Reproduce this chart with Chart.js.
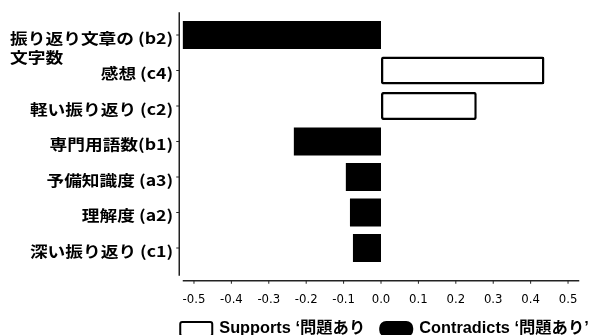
<!DOCTYPE html>
<html>
<head>
<meta charset="utf-8">
<script src="https://cdn.jsdelivr.net/npm/chart.js@4/dist/chart.umd.min.js"></script>
<style>
  html, body { margin: 0; padding: 0; background: #fff; }
  #wrap { width: 604px; height: 335px; }
</style>
</head>
<body>
<div id="wrap"><canvas id="myChart" width="604" height="335"></canvas></div>
<script>
// categories, top to bottom
const categories = [
    ['振り返り文章の (b2)', '文字数'],
    '感想 (c4)',
    '軽い振り返り (c2)',
    '専門用語数(b1)',
    '予備知識度 (a3)',
    '理解度 (a2)',
    '深い振り返り (c1)'
];
const supportsValues    = [null, 0.437, 0.256, null, null, null, null];
const contradictsValues = [-0.531, null, null, -0.233, -0.094, -0.083, -0.075];
const xTickValues = [-0.5, -0.4, -0.3, -0.2, -0.1, 0.0, 0.1, 0.2, 0.3, 0.4, 0.5];
const xTickLabels = ['-0.5', '-0.4', '-0.3', '-0.2', '-0.1', '0.0', '0.1', '0.2', '0.3', '0.4', '0.5'];
const legendLabels = ['Supports ‘問題あり', 'Contradicts ‘問題あり’'];

const JP_FONT = "bold 15px 'Noto Sans CJK JP', sans-serif";
const LEGEND_FONT = "bold 16px 'Liberation Sans', 'Noto Sans CJK JP', sans-serif";

// draw text stretched horizontally (the original looks widened)
function drawWideText(ctx, text, x, y, align, sx){
    const w = ctx.measureText(text).width * sx;
    let left = x;
    if(align == 'right') left = x - w;
    else if(align == 'center') left = x - w / 2;
    ctx.save();
    ctx.translate(left, y);
    ctx.scale(sx, 1);
    ctx.textAlign = 'left';
    ctx.fillText(text, 0, 0);
    ctx.restore();
    return w;
}

const axesPlugin = {
    id: 'axesPlugin',
    afterDraw(chart){
        const ctx = chart.ctx;
        const area = chart.chartArea;
        const xs = chart.scales.x;
        const ys = chart.scales.y;
        const axisX = area.left - 3.5;
        const axisY = area.bottom + 15;

        ctx.save();
        ctx.strokeStyle = '#222';
        ctx.lineWidth = 1.5;
        // left axis
        ctx.beginPath();
        ctx.moveTo(axisX, area.top - 5);
        ctx.lineTo(axisX, area.bottom + 10);
        ctx.stroke();
        // bottom axis
        ctx.beginPath();
        ctx.moveTo(area.left, axisY);
        ctx.lineTo(area.right, axisY);
        ctx.stroke();

        ctx.lineWidth = 1;
        for(let i = 0; i < categories.length; i++){
            const py = ys.getPixelForValue(i);
            ctx.beginPath();
            ctx.moveTo(axisX - 3, py);
            ctx.lineTo(axisX, py);
            ctx.stroke();
        }
        for(const v of xTickValues){
            const px = xs.getPixelForValue(v);
            ctx.beginPath();
            ctx.moveTo(px, axisY);
            ctx.lineTo(px, axisY + 3);
            ctx.stroke();
        }

        // y labels
        ctx.fillStyle = '#000';
        ctx.font = JP_FONT;
        ctx.textBaseline = 'middle';
        const labelRight = axisX - 6;
        for(let i = 0; i < categories.length; i++){
            const py = ys.getPixelForValue(i) + 3;
            const lab = categories[i];
            if(Array.isArray(lab)){
                const w = drawWideText(ctx, lab[0], labelRight, py, 'right', 1.18);
                drawWideText(ctx, lab[1], labelRight - w, py + 19, 'left', 1.18);
            } else {
                drawWideText(ctx, lab, labelRight, py, 'right', 1.18);
            }
        }

        // legend
        const boxW = 34, boxH = 14;
        const ly = 321;
        let lx = axisX;
        ctx.font = LEGEND_FONT;
        const styles = [
            {fill: '#fff', radius: 2},
            {fill: '#000', radius: 6}
        ];
        for(let i = 0; i < legendLabels.length; i++){
            ctx.beginPath();
            ctx.roundRect(lx + 1, ly + 1, boxW - 2, boxH, styles[i].radius);
            ctx.fillStyle = styles[i].fill;
            ctx.fill();
            ctx.lineWidth = 2;
            ctx.strokeStyle = '#000';
            ctx.stroke();
            ctx.fillStyle = '#000';
            const tw = drawWideText(ctx, legendLabels[i], lx + boxW + 6, ly + 8, 'left', 1.02);
            lx = lx + boxW + 6 + tw + 14;
        }
        ctx.restore();
    }
};

const data = {
    labels: categories.map(c => Array.isArray(c) ? c.join(' ') : c),
    datasets: [
        {
            label: legendLabels[0],
            data: supportsValues,
            backgroundColor: '#ffffff',
            borderColor: '#000000',
            borderWidth: 2.5,
            borderRadius: 2,
            borderSkipped: false,
            grouped: false,
            categoryPercentage: 1.0,
            barPercentage: 0.79
        },
        {
            label: legendLabels[1],
            data: contradictsValues,
            backgroundColor: '#000000',
            borderColor: '#000000',
            borderWidth: 0,
            grouped: false,
            categoryPercentage: 1.0,
            barPercentage: 0.79
        }
    ]
};

const config = {
    type: 'bar',
    data: data,
    options: {
        indexAxis: 'y',
        responsive: false,
        animation: false,
        layout: {
            padding: { left: 0, right: 23.75, top: 17.25, bottom: 0 }
        },
        plugins: {
            legend: { display: false },
            tooltip: { enabled: false }
        },
        scales: {
            x: {
                min: -0.53,
                max: 0.53,
                grid: { display: false, drawTicks: false },
                border: { display: false },
                afterBuildTicks: function(scale){
                    scale.ticks = xTickValues.map(v => ({ value: v }));
                },
                afterFit: function(scale){
                    scale.height = 69.25;
                },
                ticks: {
                    autoSkip: false,
                    maxRotation: 0,
                    padding: 26,
                    color: '#000',
                    font: { family: "'Liberation Sans Narrow', 'DejaVu Sans Condensed', sans-serif", size: 13 },
                    callback: function(value, index){
                        return xTickLabels[index];
                    }
                }
            },
            y: {
                grid: { display: false, drawTicks: false },
                border: { display: false },
                ticks: { display: false },
                afterFit: function(scale){
                    scale.width = 182.75;
                }
            }
        }
    },
    plugins: [axesPlugin]
};

const myChart = new Chart(document.getElementById('myChart'), config);
</script>
</body>
</html>
